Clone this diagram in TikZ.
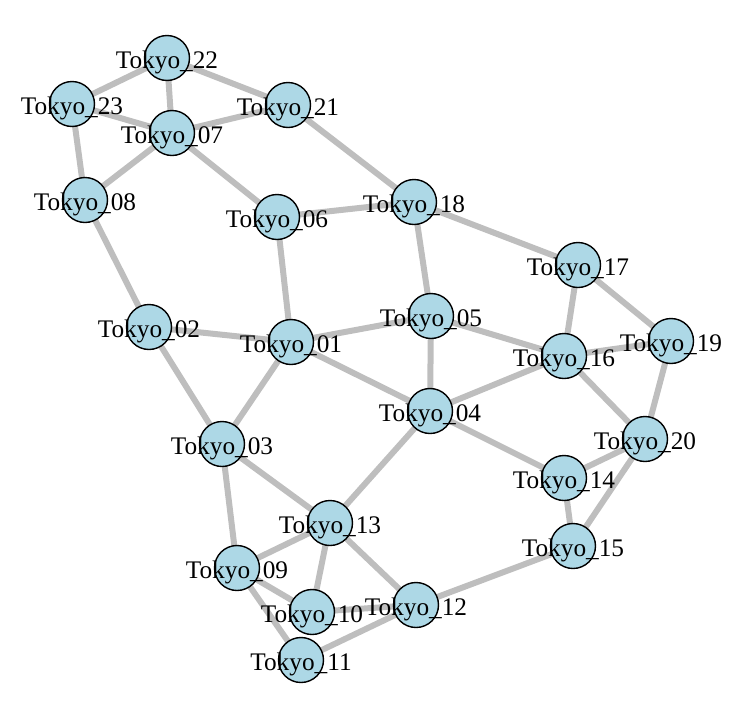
\documentclass[tikz,border=0pt]{standalone}
\usepackage{fontspec}
\setmainfont{Liberation Serif}
\definecolor{edgegray}{RGB}{190,190,190}
\definecolor{nodeblue}{RGB}{173,216,230}
\begin{document}
\begin{tikzpicture}[x=1pt,y=-1pt,
  vtx/.style={circle,draw=black,line width=1.4pt,fill=nodeblue,minimum size=45pt,inner sep=0pt},
  lbl/.style={font=\fontsize{25.3}{27}\selectfont,inner sep=0pt,text depth=0pt},
  edge/.style={draw=edgegray,line width=6pt}]
\useasboundingbox (0,0) rectangle (748,702);
\foreach \n/\x/\y in {
  22/167/58, 23/72/104, 07/172/133, 21/288/105, 08/85/200, 06/277/217,
  18/414/202, 17/578/265, 02/149/327, 01/291/342, 05/431/316, 16/564/356,
  19/671/341, 04/430/411, 03/222/444, 20/645/439, 14/564/478, 13/330/523,
  15/573/546, 09/237/568, 10/312/612, 12/416/605, 11/301/660}
  \coordinate (p\n) at (\x,\y);
\foreach \a/\b in {22/23,22/07,22/21,23/07,23/08,07/21,07/08,07/06,21/18,06/18,
  06/01,18/05,18/17,08/02,02/01,02/03,01/05,01/04,01/03,05/16,05/04,17/16,17/19,
  16/19,16/04,16/20,19/20,04/14,04/13,03/13,03/09,20/14,20/15,14/15,13/09,13/10,
  13/12,09/10,09/11,10/12,12/15,12/11}
  \draw[edge] (p\a) -- (p\b);
\foreach \n in {22,23,07,21,08,06,18,17,02,01,05,16,19,04,03,20,14,13,15,09,10,12,11}
  \node[vtx] (v\n) at (p\n) {};
\foreach \n in {22,23,07,21,08,06,18,17,02,01,05,16,19,04,03,20,14,13,15,09,10,12,11}
  \node[lbl] (t\n) at ([yshift=-2pt]p\n) {Tokyo\_\n};
\end{tikzpicture}
\end{document}
